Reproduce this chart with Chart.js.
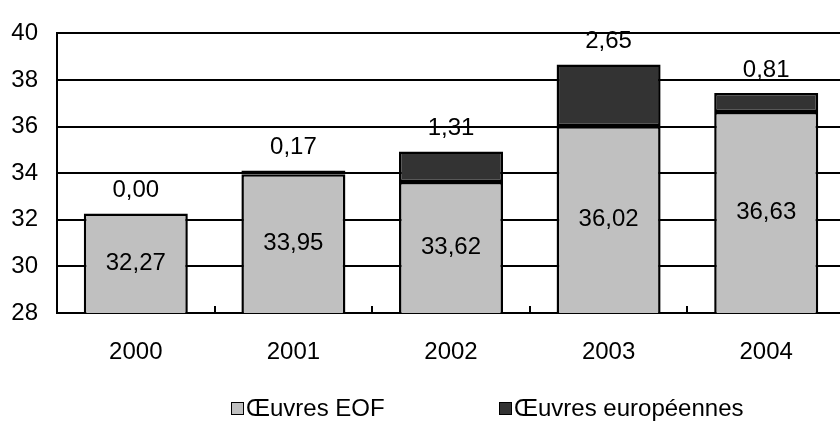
<!DOCTYPE html>
<html>
<head>
<meta charset="utf-8">
<script src="https://cdn.jsdelivr.net/npm/chart.js@4"></script>
<style>
  html, body { margin: 0; padding: 0; background: #fff; overflow: hidden; }
  #wrap { position: relative; width: 840px; height: 423px; overflow: hidden; }
  canvas { position: absolute; left: 0; top: 0; }
  .leg { position: absolute; top: 394px; font: 24px "Liberation Sans", Arial, sans-serif; color: #000; white-space: nowrap; }
  .leg span.box { display: inline-block; width: 11px; height: 11px; border: 1.5px solid #000; margin-right: 2px; vertical-align: 1px; }
</style>
</head>
<body>
<div id="wrap">
  <canvas id="chart" width="850" height="423"></canvas>
  <div class="leg" style="left:231px"><span class="box" style="background:#c0c0c0"></span>Œuvres EOF</div>
  <div class="leg" style="left:499px"><span class="box" style="background:#333333"></span>Œuvres européennes</div>
</div>
<script>
const years = ['2000', '2001', '2002', '2003', '2004'];
const eofValues = [32.27, 33.95, 33.62, 36.02, 36.63];
const europeValues = [0.00, 0.17, 1.31, 2.65, 0.81];
const seriesNames = ['Œuvres EOF', 'Œuvres européennes'];

const fontFamily = '"Liberation Sans", Arial, sans-serif';
const fmt = (v) => v.toFixed(2).replace('.', ',');

// labels inside / above the bars, plus the little tick marks on the x axis
const labelPlugin = {
    id: 'barLabels',
    afterDatasetsDraw(chart) {
        const ctx = chart.ctx;
        const bottom = chart.chartArea.bottom;
        const eofMeta = chart.getDatasetMeta(0);
        const euMeta = chart.getDatasetMeta(1);
        ctx.save();
        ctx.font = '24px ' + fontFamily;
        ctx.fillStyle = '#000';
        ctx.textAlign = 'center';
        ctx.textBaseline = 'middle';
        eofMeta.data.forEach((bar, i) => {
            const base = Math.min(bar.base, bottom);
            ctx.fillText(fmt(eofValues[i]), bar.x, (bar.y + base) / 2);
        });
        euMeta.data.forEach((bar, i) => {
            ctx.fillText(fmt(europeValues[i]), bar.x, bar.y - 23);
        });

        const xs = chart.scales.x;
        ctx.strokeStyle = '#000';
        ctx.lineWidth = 2;
        for (let i = 1; i < years.length; i++) {
            const x = Math.round((xs.getPixelForValue(i - 1) + xs.getPixelForValue(i)) / 2);
            ctx.beginPath();
            ctx.moveTo(x, bottom);
            ctx.lineTo(x, bottom - 7);
            ctx.stroke();
        }
        ctx.restore();
    }
};

new Chart(document.getElementById('chart'), {
    type: 'bar',
    data: {
        labels: years,
        datasets: [
            {
                label: seriesNames[0],
                data: eofValues,
                backgroundColor: '#c0c0c0',
                borderColor: '#000',
                borderWidth: 2.5,
                borderSkipped: false,
                barPercentage: 0.66,
                categoryPercentage: 1
            },
            {
                label: seriesNames[1],
                data: europeValues,
                backgroundColor: '#333333',
                borderColor: '#000',
                borderWidth: 2.5,
                borderSkipped: false,
                barPercentage: 0.66,
                categoryPercentage: 1
            }
        ]
    },
    options: {
        responsive: false,
        animation: false,
        devicePixelRatio: 1,
        layout: { padding: { top: 25, right: 5, left: 0, bottom: 0 } },
        plugins: {
            legend: { display: false },
            tooltip: { enabled: false }
        },
        scales: {
            x: {
                stacked: true,
                grid: { display: false, drawTicks: false },
                border: { display: true, color: '#000', width: 2 },
                ticks: { color: '#000', font: { family: fontFamily, size: 24 }, padding: 25 },
                afterFit: (scale) => { scale.height = 110; }
            },
            y: {
                stacked: true,
                min: 28,
                max: 40,
                ticks: { stepSize: 2, color: '#000', font: { family: fontFamily, size: 24 }, padding: 19 },
                grid: { color: '#000', lineWidth: 2, drawTicks: false },
                border: { display: true, color: '#000', width: 2 },
                afterFit: (scale) => { scale.width = 57; }
            }
        }
    },
    plugins: [labelPlugin]
});
</script>
</body>
</html>
